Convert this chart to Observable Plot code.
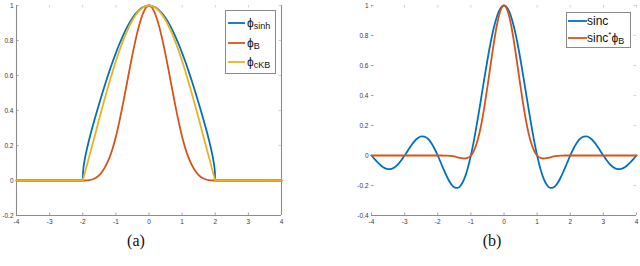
<!DOCTYPE html>
<html><head><meta charset="utf-8">
<script src="https://cdn.jsdelivr.net/npm/d3@7"></script>
<script src="https://cdn.jsdelivr.net/npm/@observablehq/plot@0.6"></script>
<style>
body{margin:0;background:#fff;width:640px;height:266px;overflow:hidden;position:relative;font-family:"Liberation Sans",Arial,sans-serif}
.panel{position:absolute;top:0}
.cap{position:absolute;font-family:"Liberation Serif",serif;font-size:16px;color:#111;transform:translateX(-50%);white-space:nowrap}
.leg{position:absolute;border:1px solid #8a8a8a;background:#fff;box-sizing:border-box}
.row{position:absolute;left:2px;display:flex;align-items:center;white-space:nowrap;color:#111}
.row svg{flex:none}
.main{font-size:12px}
.sub{font-size:9px;position:relative;top:3px}
.sup{font-size:8px;position:relative;top:-3px}
</style></head><body>
<div id="a" class="panel" style="left:0"></div>
<div id="b" class="panel" style="left:320px"></div>
<div id="legA" class="leg" style="left:225px;top:10px;width:51px;height:64px"></div>
<div id="legB" class="leg" style="left:566px;top:12px;width:65px;height:36px"></div>
<div class="cap" style="left:136px;top:232px">(a)</div>
<div class="cap" style="left:492px;top:232px">(b)</div>
<script>
// ---------- data: panel (a) ----------
const xA = [-4, -2, -1.99, -1.95, -1.9, -1.8, -1.7, -1.6, -1.5, -1.4, -1.3, -1.2, -1.1, -1, -0.9, -0.8, -0.7, -0.6, -0.5, -0.4, -0.3, -0.2, -0.1, 0,
            0.1, 0.2, 0.3, 0.4, 0.5, 0.6, 0.7, 0.8, 0.9, 1, 1.1, 1.2, 1.3, 1.4, 1.5, 1.6, 1.7, 1.8, 1.9, 1.95, 1.99, 2, 4];
const phiSinh = [0, 0, 0.047, 0.108, 0.158, 0.239, 0.310, 0.377, 0.442, 0.504, 0.564, 0.622, 0.677, 0.728, 0.777, 0.821, 0.862, 0.897, 0.928, 0.954, 0.974, 0.988, 0.997, 1,
                 0.997, 0.988, 0.974, 0.954, 0.928, 0.897, 0.862, 0.821, 0.777, 0.728, 0.677, 0.622, 0.564, 0.504, 0.442, 0.377, 0.310, 0.239, 0.158, 0.108, 0.047, 0, 0];
const phiB = [0, 0, 0, 0, 0.0003, 0.002, 0.007, 0.016, 0.031, 0.054, 0.086, 0.128, 0.182, 0.25, 0.332, 0.424, 0.522, 0.622, 0.719, 0.808, 0.885, 0.946, 0.986, 1,
              0.986, 0.946, 0.885, 0.808, 0.719, 0.622, 0.522, 0.424, 0.332, 0.25, 0.182, 0.128, 0.086, 0.054, 0.031, 0.016, 0.007, 0.002, 0.0003, 0, 0, 0, 0];
const phiCKB = [0, 0, 0.007, 0.034, 0.069, 0.140, 0.211, 0.282, 0.354, 0.424, 0.492, 0.559, 0.622, 0.683, 0.739, 0.791, 0.838, 0.880, 0.916, 0.946, 0.969, 0.986, 0.9965, 1,
                0.9965, 0.986, 0.969, 0.946, 0.916, 0.880, 0.838, 0.791, 0.739, 0.683, 0.622, 0.559, 0.492, 0.424, 0.354, 0.282, 0.211, 0.140, 0.069, 0.034, 0.007, 0, 0];
const xTicksA = [-4, -3, -2, -1, 0, 1, 2, 3, 4];
const yTicksA = [-0.2, 0, 0.2, 0.4, 0.6, 0.8, 1];

// ---------- data: panel (b) ----------
const xB = [-4, -3.9, -3.8, -3.7, -3.6, -3.5, -3.4, -3.3, -3.2, -3.1, -3, -2.9, -2.8, -2.7, -2.6, -2.5, -2.4, -2.3, -2.2, -2.1, -2, -1.9, -1.8, -1.7, -1.6, -1.5, -1.4, -1.3, -1.2, -1.1, -1, -0.9, -0.8, -0.7, -0.6, -0.5, -0.4, -0.3, -0.2, -0.1, 0,
            0.1, 0.2, 0.3, 0.4, 0.5, 0.6, 0.7, 0.8, 0.9, 1, 1.1, 1.2, 1.3, 1.4, 1.5, 1.6, 1.7, 1.8, 1.9, 2, 2.1, 2.2, 2.3, 2.4, 2.5, 2.6, 2.7, 2.8, 2.9, 3, 3.1, 3.2, 3.3, 3.4, 3.5, 3.6, 3.7, 3.8, 3.9, 4];
const sinc = [0, -0.0252, -0.0492, -0.0696, -0.0841, -0.0909, -0.0890, -0.0780, -0.0585, -0.0317, 0, 0.0339, 0.0668, 0.0954, 0.1164, 0.1273, 0.1261, 0.1120, 0.0850, 0.0468, 0, -0.0518, -0.1039, -0.1515, -0.1892, -0.2122, -0.2162, -0.1981, -0.1559, -0.0894, 0, 0.1093, 0.2339, 0.3679, 0.5046, 0.6366, 0.7568, 0.8584, 0.9355, 0.9836, 1,
              0.9836, 0.9355, 0.8584, 0.7568, 0.6366, 0.5046, 0.3679, 0.2339, 0.1093, 0, -0.0894, -0.1559, -0.1981, -0.2162, -0.2122, -0.1892, -0.1515, -0.1039, -0.0518, 0, 0.0468, 0.0850, 0.1120, 0.1261, 0.1273, 0.1164, 0.0954, 0.0668, 0.0339, 0, -0.0317, -0.0585, -0.0780, -0.0890, -0.0909, -0.0841, -0.0696, -0.0492, -0.0252, 0];
const sincPhiB = [0, 0, 0, 0, 0, 0, 0, 0, 0, 0, 0, 0, 0, 0, 0, 0, 0, 0, 0, 0, 0, 0, -0.0002, -0.0010, -0.0030, -0.0066, -0.0117, -0.0170, -0.0200, -0.0163, 0, 0.036, 0.099, 0.192, 0.314, 0.458, 0.611, 0.760, 0.885, 0.970, 1,
                  0.970, 0.885, 0.760, 0.611, 0.458, 0.314, 0.192, 0.099, 0.036, 0, -0.0163, -0.0200, -0.0170, -0.0117, -0.0066, -0.0030, -0.0010, -0.0002, 0, 0, 0, 0, 0, 0, 0, 0, 0, 0, 0, 0, 0, 0, 0, 0, 0, 0, 0, 0, 0, 0];
const xTicksB = [-4, -3, -2, -1, 0, 1, 2, 3, 4];
const yTicksB = [-0.4, -0.2, 0, 0.2, 0.4, 0.6, 0.8, 1];

const blue = "#0072BD", orange = "#D95319", yellow = "#EDB120";
const axisGray = "#8c8c8c", textGray = "#3a3a3a";
const LW = 1.8;

function panel({xs, series, xTicks, yTicks, mLeft, mRight, rightLine, leftLine}) {
  const W = 320, H = 266, mTop = 5, mBottom = 51;
  const fw = W - mLeft - mRight, fh = H - mTop - mBottom;
  const tk = 2.5;
  const marks = [
    Plot.axisX({ticks: xTicks, tickSize: 0, tickPadding: 4, tickFormat: d => String(d), fill: textGray, fontSize: 6.5, label: null}),
    Plot.axisY({ticks: yTicks, tickSize: 0, tickPadding: 3, tickFormat: d => String(d), fill: textGray, fontSize: 6.5, label: null}),
    // inward ticks
    Plot.tickX(xTicks, {x: d => d, stroke: axisGray, strokeWidth: 0.8, insetTop: fh - tk}),
    Plot.tickX(xTicks, {x: d => d, stroke: axisGray, strokeWidth: 0.8, strokeOpacity: 0.5, insetBottom: fh - tk}),
    Plot.tickY(yTicks, {y: d => d, stroke: axisGray, strokeWidth: 0.8, insetRight: fw - tk}),
    Plot.tickY(yTicks, {y: d => d, stroke: axisGray, strokeWidth: 0.8, strokeOpacity: 0.5, insetLeft: fw - tk}),
    Plot.ruleY([yTicks[0]], {stroke: axisGray, strokeWidth: 1.1}),
  ];
  if (leftLine) marks.push(Plot.ruleX([xTicks[0]], {stroke: axisGray, strokeWidth: 1.1}));
  if (rightLine) marks.push(Plot.ruleX([xTicks[xTicks.length - 1]], {stroke: axisGray, strokeWidth: 1.1}));
  for (const s of series) {
    marks.push(Plot.line(s.values, {x: xs, y: s.values, stroke: s.color, strokeWidth: LW, curve: "monotone-x"}));
  }
  return Plot.plot({
    width: W, height: H,
    marginLeft: mLeft, marginRight: mRight, marginTop: mTop, marginBottom: mBottom,
    style: {fontFamily: "'Liberation Sans', Arial, sans-serif", background: "transparent", overflow: "visible"},
    x: {domain: [xTicks[0], xTicks[xTicks.length - 1]]},
    y: {domain: [yTicks[0], yTicks[yTicks.length - 1]]},
    marks
  });
}

document.getElementById("a").append(panel({
  xs: xA,
  series: [{values: phiSinh, color: blue}, {values: phiB, color: orange}, {values: phiCKB, color: yellow}],
  xTicks: xTicksA, yTicks: yTicksA, mLeft: 16, mRight: 39, rightLine: true, leftLine: true
}));
document.getElementById("b").append(panel({
  xs: xB,
  series: [{values: sinc, color: blue}, {values: sincPhiB, color: orange}],
  xTicks: xTicksB, yTicks: yTicksB, mLeft: 51, mRight: 4, rightLine: false, leftLine: false
}));

// ---------- legends ----------
const legA = [
  {color: blue, main: "ϕ", sub: "sinh"},
  {color: orange, main: "ϕ", sub: "B"},
  {color: yellow, main: "ϕ", sub: "cKB"}
];
const legB = [
  {color: blue, html: '<span class="main">sinc</span>'},
  {color: orange, html: '<span class="main">sinc</span><span class="sup">*</span><span class="main">ϕ</span><span class="sub">B</span>'}
];
function sample(color, w) {
  return `<svg width="${w}" height="4"><line x1="0" x2="${w}" y1="2" y2="2" stroke="${color}" stroke-width="${LW}"/></svg>`;
}
legA.forEach((e, i) => {
  const r = document.createElement("div");
  r.className = "row";
  r.style.top = (4 + i * 19.5) + "px";
  r.style.height = "16px";
  r.innerHTML = sample(e.color, 17) + `<span class="main" style="margin-left:2px">${e.main}</span><span class="sub">${e.sub}</span>`;
  document.getElementById("legA").append(r);
});
legB.forEach((e, i) => {
  const r = document.createElement("div");
  r.className = "row";
  r.style.top = (0 + i * 16.5) + "px";
  r.style.height = "16px";
  r.style.left = "1px";
  r.innerHTML = sample(e.color, 19) + e.html;
  document.getElementById("legB").append(r);
});
</script>
</body></html>
